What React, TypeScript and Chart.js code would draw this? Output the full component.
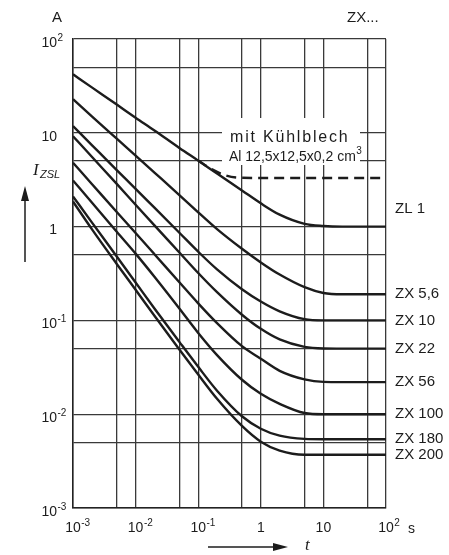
import React, { useEffect, useRef } from 'react';
import { Chart, registerables } from 'chart.js';

Chart.register(...registerables);

// time axis samples (s)
const times = [0.001, 0.002, 0.005, 0.01, 0.02, 0.05, 0.1, 0.2, 0.5, 1, 2, 5, 10, 20, 50, 100];

// I_ZSL (A) per type
const zl1 = [42, 30.5, 20, 14.5, 10.6, 6.9, 5.05, 3.68, 2.43, 1.77, 1.34, 1.07, 1.015, 1.0, 1.0, 1.0];
const zx5_6 = [22.8, 15.0, 8.66, 5.72, 3.77, 2.17, 1.42, 0.94, 0.58, 0.415, 0.308, 0.226, 0.196, 0.19, 0.19, 0.19];
const zx10 = [11.8, 7.4, 4.0, 2.53, 1.59, 0.86, 0.54, 0.35, 0.215, 0.159, 0.125, 0.103, 0.1, 0.1, 0.1, 0.1];
const zx22 = [9.2, 5.55, 2.85, 1.71, 1.03, 0.53, 0.32, 0.2, 0.115, 0.0813, 0.0627, 0.0522, 0.0502, 0.05, 0.05, 0.05];
const zx56 = [4.8, 2.85, 1.43, 0.854, 0.508, 0.255, 0.152, 0.0935, 0.0531, 0.039, 0.029, 0.0235, 0.0221, 0.022, 0.022, 0.022];
const zx100 = [3.1, 1.81, 0.881, 0.515, 0.292, 0.134, 0.0735, 0.0427, 0.0233, 0.0165, 0.0129, 0.0103, 0.01, 0.01, 0.01, 0.01];
const zx180 = [2.1, 1.11, 0.48, 0.254, 0.134, 0.059, 0.032, 0.0178, 0.0095, 0.007, 0.0059, 0.00545, 0.0054, 0.0054, 0.0054, 0.0054];
const zx200 = [1.85, 0.94, 0.4, 0.212, 0.112, 0.049, 0.0265, 0.0146, 0.0075, 0.0051, 0.0041, 0.0037, 0.0037, 0.0037, 0.0037, 0.0037];

// ZL 1 with heat sink (dashed)
const sinkTimes = [0.1, 0.17, 0.28, 0.45, 1, 10, 100];
const sinkValues = [5.05, 4.05, 3.5, 3.32, 3.3, 3.3, 3.3];

const seriesNames = ['ZL 1', 'ZX 5,6', 'ZX 10', 'ZX 22', 'ZX 56', 'ZX 100', 'ZX 180', 'ZX 200'];
const seriesValues = [zl1, zx5_6, zx10, zx22, zx56, zx100, zx180, zx200];

// grid / ticks
const gridVals = [0.001, 0.005, 0.01, 0.05, 0.1, 0.5, 1, 5, 10, 50, 100];
const xLabelVals = [0.001, 0.01, 0.1, 1, 10, 100];
const xLabelBase = ['10', '10', '10', '1', '10', '10'];
const xLabelExp = ['-3', '-2', '-1', '', '', '2'];
const yLabelVals = [100, 10, 1, 0.1, 0.01, 0.001];
const yLabelBase = ['10', '10', '1', '10', '10', '10'];
const yLabelExp = ['2', '', '', '-1', '-2', '-3'];

const SANS = '"Liberation Sans", Arial, sans-serif';
const SERIF = '"Liberation Serif", "Times New Roman", serif';
const INK = '#1c1c1c';

function drawPow(ctx: CanvasRenderingContext2D, base: string, exp: string, x: number, y: number, mode: 'center' | 'right') {
  ctx.font = `14px ${SANS}`;
  ctx.textBaseline = 'middle';
  const bw = ctx.measureText(base).width;
  const left = mode === 'center' ? x - bw / 2 : x - bw;
  ctx.textAlign = 'left';
  ctx.fillText(base, left, y);
  if (exp) {
    ctx.font = `10px ${SANS}`;
    ctx.fillText(exp, left + bw + 0.5, y - 5);
  }
}

const decorPlugin = {
  id: 'decor',
  beforeDatasetsDraw(chart: any) {
    const ctx = chart.ctx as CanvasRenderingContext2D;
    ctx.save();
    ctx.fillStyle = '#ffffff';
    ctx.fillRect(222, 118, 138, 47);
    ctx.restore();
  },
  afterDraw(chart: any) {
    const ctx = chart.ctx as CanvasRenderingContext2D;
    const xs = chart.scales.x;
    const ys = chart.scales.y;
    ctx.save();
    ctx.fillStyle = INK;
    ctx.strokeStyle = INK;

    // x tick labels
    xLabelVals.forEach((v, i) => {
      drawPow(ctx, xLabelBase[i], xLabelExp[i], xs.getPixelForValue(v), 528, 'center');
    });
    ctx.font = `14px ${SANS}`;
    ctx.textAlign = 'left';
    ctx.fillText('s', 408, 529);

    // y tick labels
    yLabelVals.forEach((v, i) => {
      drawPow(ctx, yLabelBase[i], yLabelExp[i], 57, ys.getPixelForValue(v) + 4, 'right');
    });

    // units / header
    ctx.font = `15px ${SANS}`;
    ctx.textAlign = 'center';
    ctx.textBaseline = 'middle';
    ctx.fillText('A', 57, 18);
    ctx.textAlign = 'left';
    ctx.fillText('ZX...', 347, 18);

    // series labels
    ctx.font = `15px ${SANS}`;
    ctx.textBaseline = 'middle';
    seriesNames.forEach((name, i) => {
      const vals = seriesValues[i];
      let y = ys.getPixelForValue(vals[vals.length - 1]);
      if (i === 0) y -= 18;
      ctx.fillText(name, 395, y);
    });

    // heat sink annotation
    ctx.font = `16px ${SANS}`;
    (ctx as any).letterSpacing = '1.8px';
    ctx.textAlign = 'left';
    ctx.fillText('mit Kühlblech', 230, 138);
    (ctx as any).letterSpacing = '0px';
    ctx.font = `14px ${SANS}`;
    ctx.fillText('Al 12,5x12,5x0,2 cm', 229, 157);
    const w = ctx.measureText('Al 12,5x12,5x0,2 cm').width;
    ctx.font = `10px ${SANS}`;
    ctx.fillText('3', 229 + w + 0.5, 151);

    // I_ZSL axis name + arrow
    ctx.font = `italic 17px ${SERIF}`;
    ctx.fillText('I', 33, 171);
    ctx.font = `italic 11px ${SANS}`;
    ctx.fillText('ZSL', 40, 175);
    ctx.lineWidth = 1.5;
    ctx.beginPath();
    ctx.moveTo(25, 262);
    ctx.lineTo(25, 198);
    ctx.stroke();
    ctx.beginPath();
    ctx.moveTo(25, 186);
    ctx.lineTo(21, 201);
    ctx.lineTo(29, 201);
    ctx.closePath();
    ctx.fill();

    // t axis arrow + name
    ctx.beginPath();
    ctx.moveTo(208, 547);
    ctx.lineTo(276, 547);
    ctx.stroke();
    ctx.beginPath();
    ctx.moveTo(288, 547);
    ctx.lineTo(273, 543);
    ctx.lineTo(273, 551);
    ctx.closePath();
    ctx.fill();
    ctx.font = `italic 17px ${SERIF}`;
    ctx.fillText('t', 305, 546);

    ctx.restore();
  },
};

export default function App() {
  const ref = useRef<HTMLCanvasElement | null>(null);
  useEffect(() => {
    if (!ref.current) return;
    const datasets: any[] = seriesValues.map((vals, i) => ({
      label: seriesNames[i],
      data: times.map((t, j) => ({ x: t, y: vals[j] })),
      borderColor: INK,
      borderWidth: 2.4,
      pointRadius: 0,
      cubicInterpolationMode: 'monotone',
      fill: false,
    }));
    datasets.push({
      label: 'mit Kühlblech',
      data: sinkTimes.map((t, j) => ({ x: t, y: sinkValues[j] })),
      borderColor: INK,
      borderWidth: 2.4,
      borderDash: [10, 6],
      pointRadius: 0,
      cubicInterpolationMode: 'monotone',
      fill: false,
    });
    const axis = (min: number, max: number) => ({
      type: 'logarithmic',
      min,
      max,
      afterBuildTicks: (s: any) => {
        s.ticks = gridVals.map((v) => ({ value: v }));
      },
      ticks: { display: false },
      grid: { color: '#3a3a3a', lineWidth: 1.3, drawTicks: false },
      border: { color: '#222', width: 1.5 },
    });
    const chart = new Chart(ref.current, {
      type: 'line',
      data: { datasets },
      options: {
        animation: false,
        responsive: false,
        maintainAspectRatio: false,
        layout: { padding: { left: 73, right: 63, top: 39, bottom: 47 } },
        plugins: { legend: { display: false }, tooltip: { enabled: false } },
        scales: { x: axis(0.001, 100) as any, y: axis(0.001, 100) as any },
      },
      plugins: [decorPlugin],
    });
    return () => chart.destroy();
  }, []);
  return (
    <div style={{ position: 'absolute', left: 0, top: 0, width: 449, height: 555, background: '#fff' }}>
      <canvas ref={ref} width={449} height={555} />
    </div>
  );
}
